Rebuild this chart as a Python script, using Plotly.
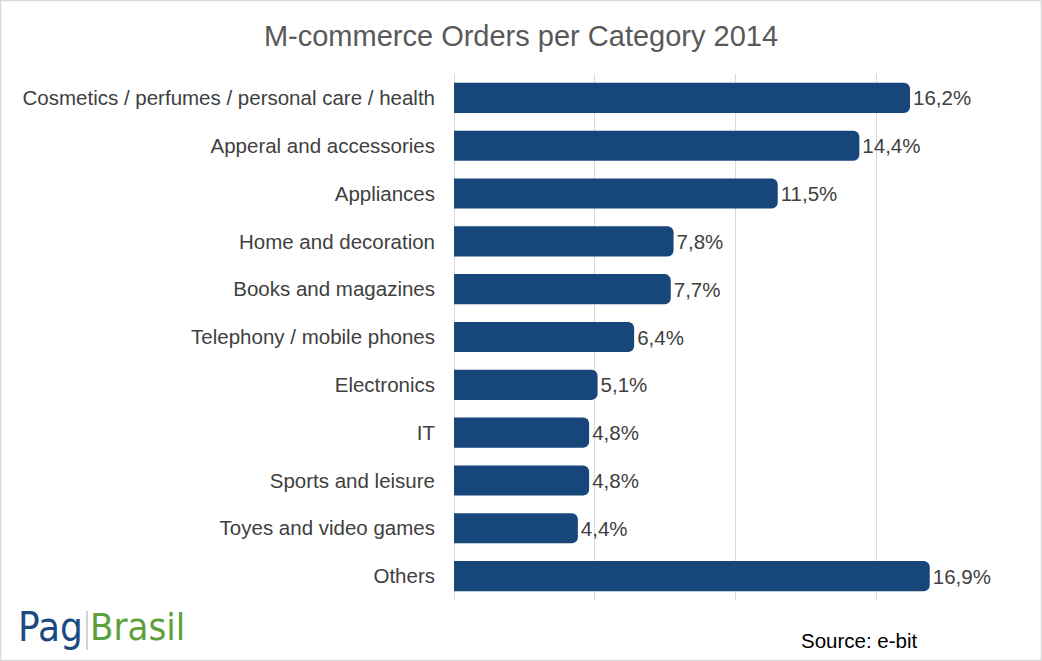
import plotly.graph_objects as go

categories = [
    "Cosmetics / perfumes / personal care / health",
    "Apperal and accessories",
    "Appliances",
    "Home and decoration",
    "Books and magazines",
    "Telephony / mobile phones",
    "Electronics",
    "IT",
    "Sports and leisure",
    "Toyes and video games",
    "Others",
]
values = [16.2, 14.4, 11.5, 7.8, 7.7, 6.4, 5.1, 4.8, 4.8, 4.4, 16.9]
labels = [f"{v:.1f}".replace(".", ",") + "%" for v in values]

W, H = 1042, 661
L, R, T, B = 454, 25, 74, 61
pw, ph = W - L - R, H - T - B

font = "Liberation Sans, Arial, sans-serif"

fig = go.Figure(go.Bar(
    y=categories, x=values, orientation="h",
    marker=dict(color="#17467b", cornerradius=6, line=dict(width=0)),
    text=labels, textposition="outside", cliponaxis=False,
    textfont=dict(size=20.5, color="#404040", family=font),
))

fig.update_layout(
    width=W, height=H,
    margin=dict(l=L, r=R, t=T, b=B),
    paper_bgcolor="white", plot_bgcolor="white",
    bargap=0.37,
    showlegend=False,
    title=dict(text="M-commerce Orders per Category 2014", x=0.5, xanchor="center",
               y=1 - 36 / H, yanchor="middle",
               font=dict(size=29, color="#595959", family=font)),
    xaxis=dict(range=[0, 20], dtick=5, showticklabels=False, showgrid=True,
               gridcolor="#d9d9d9", gridwidth=1, zeroline=True, zerolinecolor="#d9d9d9",
               zerolinewidth=1, showline=False, fixedrange=True),
    yaxis=dict(autorange="reversed", showgrid=False, showline=False, ticks="",
               ticklabelstandoff=18,
               tickfont=dict(size=20.5, color="#404040", family=font)),
)

# outer border
fig.add_shape(type="rect", xref="paper", yref="paper",
              x0=(0.5 - L) / pw, x1=(W - 0.5 - L) / pw,
              y0=-(B - 0.5) / ph, y1=1 + (T - 0.5) / ph,
              line=dict(color="#d9d9d9", width=1.5), layer="below")

def px(x):
    return (x - L) / pw

def py(y):
    return (H - B - y) / ph

fig.add_annotation(text="Source: e-bit",
                   xref="paper", yref="paper", x=px(859), y=py(640),
                   xanchor="center", yanchor="middle", showarrow=False,
                   font=dict(size=20.5, color="#000000", family=font))

logo_font = "DejaVu Sans Condensed, DejaVu Sans, sans-serif"
fig.add_annotation(text="Pag", xref="paper", yref="paper", x=px(85), y=py(627),
                   xanchor="right", yanchor="middle", showarrow=False,
                   font=dict(size=40, color="#1b4a82", family=logo_font))
fig.add_annotation(text="Brasil", xref="paper", yref="paper", x=px(88), y=py(627),
                   xanchor="left", yanchor="middle", showarrow=False,
                   font=dict(size=38, color="#5aa13c", family=logo_font))
fig.add_shape(type="line", xref="paper", yref="paper",
              x0=px(87), x1=px(87), y0=py(611), y1=py(650),
              line=dict(color="#a0aab4", width=1))

fig.write_html("out.html", config={"displayModeBar": False},
               post_script="document.body.style.margin='0';document.body.style.overflow='hidden';")
